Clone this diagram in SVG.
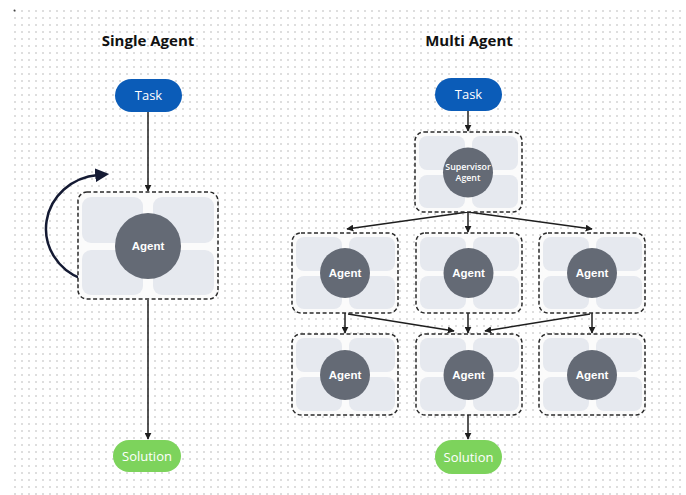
<svg xmlns="http://www.w3.org/2000/svg" width="686" height="495" viewBox="0 0 686 495">
<defs>
<pattern id="dots" x="14" y="10" width="7" height="7" patternUnits="userSpaceOnUse">
<circle cx="1" cy="1" r="0.8" fill="#b4b4b4"/>
</pattern>
<marker id="arr" viewBox="0 0 10 10" refX="9" refY="5" markerWidth="7" markerHeight="7" markerUnits="userSpaceOnUse" orient="auto">
<path d="M0,0 L10,5 L0,10 z" fill="#1e1e1e"/>
</marker>
<marker id="bigarr" viewBox="0 0 10 10" refX="2" refY="5" markerWidth="14" markerHeight="14" markerUnits="userSpaceOnUse" orient="auto">
<path d="M0,0 L10,5 L0,10 z" fill="#141a33"/>
</marker>
</defs>
<style>
.title{font-family:"Open Sans","Noto Sans",sans-serif;font-weight:700;font-size:15px;fill:#111}
.pilltxt{font-family:"Open Sans","Noto Sans",sans-serif;font-size:13px;fill:#fff;text-anchor:middle}
.agtxt{font-family:"Liberation Sans",Arial,sans-serif;font-weight:700;font-size:11.5px;fill:#fff;text-anchor:middle}
.suptxt{font-family:"Open Sans","Noto Sans",sans-serif;font-weight:600;font-size:8.8px;fill:#fff;text-anchor:middle}
.frame{fill:#fbfbfb;stroke:#2a2a2a;stroke-width:1.5;stroke-dasharray:4 2.5}
.quad{fill:#e6e9ef}
.circ{fill:#646a75}
.task{fill:#0b5cb8}
.sol{fill:#7dd35c}
.conn{fill:none;stroke:#1e1e1e;stroke-width:1.5}
</style>
<rect width="686" height="495" fill="#ffffff"/>
<rect x="14" y="10" width="672" height="485" fill="url(#dots)"/>
<circle cx="14.5" cy="10.5" r="1" fill="#444"/>

<text class="title" x="148" y="46" text-anchor="middle">Single Agent</text>
<text class="title" x="469" y="46" text-anchor="middle">Multi Agent</text>

<g id="connectors">
<line class="conn" x1="148" y1="112" x2="148" y2="191" marker-end="url(#arr)"/>
<line class="conn" x1="148" y1="300" x2="148" y2="439" marker-end="url(#arr)"/>
<path d="M 82 279 A 57 54 0 0 1 98 175" fill="none" stroke="#141a33" stroke-width="2.5" marker-end="url(#bigarr)"/>
<line class="conn" x1="468" y1="111" x2="468" y2="131" marker-end="url(#arr)"/>
<line class="conn" x1="468" y1="212" x2="347" y2="229" marker-end="url(#arr)"/>
<line class="conn" x1="468" y1="212" x2="468" y2="232" marker-end="url(#arr)"/>
<line class="conn" x1="468" y1="212" x2="592" y2="229" marker-end="url(#arr)"/>
<line class="conn" x1="345" y1="313" x2="345" y2="333" marker-end="url(#arr)"/>
<line class="conn" x1="348" y1="314" x2="454" y2="331" marker-end="url(#arr)"/>
<line class="conn" x1="468" y1="313" x2="468" y2="333" marker-end="url(#arr)"/>
<line class="conn" x1="592" y1="313" x2="592" y2="333" marker-end="url(#arr)"/>
<line class="conn" x1="590" y1="314" x2="485" y2="331" marker-end="url(#arr)"/>
<line class="conn" x1="468" y1="415" x2="468" y2="439" marker-end="url(#arr)"/>
</g>

<g id="single-task">
<rect class="task" x="115" y="79" width="67" height="33" rx="16.5"/>
<text class="pilltxt" x="148.5" y="100">Task</text>
</g>

<g id="single-agent">
<rect class="frame" x="78" y="192" width="140" height="107" rx="9"/>
<rect class="quad" x="82" y="197" width="61" height="46" rx="9"/>
<rect class="quad" x="153" y="197" width="61" height="46" rx="9"/>
<rect class="quad" x="82" y="250" width="61" height="45" rx="9"/>
<rect class="quad" x="153" y="250" width="61" height="45" rx="9"/>
<circle class="circ" cx="148" cy="246" r="33"/>
<text class="agtxt" x="148" y="250">Agent</text>
</g>

<g id="single-solution">
<rect class="sol" x="113" y="440" width="68" height="32" rx="16"/>
<text class="pilltxt" x="147" y="461">Solution</text>
</g>

<g id="multi-task">
<rect class="task" x="435" y="78" width="67" height="33" rx="16.5"/>
<text class="pilltxt" x="468.5" y="99">Task</text>
</g>

<g id="supervisor">
<rect class="frame" x="415" y="132" width="107" height="80" rx="9"/>
<rect class="quad" x="419" y="136" width="46" height="34" rx="8"/>
<rect class="quad" x="472" y="136" width="46" height="34" rx="8"/>
<rect class="quad" x="419" y="175" width="46" height="33" rx="8"/>
<rect class="quad" x="472" y="175" width="46" height="33" rx="8"/>
<circle class="circ" cx="468" cy="172.5" r="25"/>
<text class="suptxt" x="468" y="170">Supervisor</text>
<text class="suptxt" x="468" y="181">Agent</text>
</g>

<g id="agent-m1">
<rect class="frame" x="292" y="233" width="106" height="80" rx="9"/>
<rect class="quad" x="296" y="237" width="46" height="34" rx="8"/>
<rect class="quad" x="349" y="237" width="46" height="34" rx="8"/>
<rect class="quad" x="296" y="276" width="46" height="33" rx="8"/>
<rect class="quad" x="349" y="276" width="46" height="33" rx="8"/>
<circle class="circ" cx="345" cy="273" r="25"/>
<text class="agtxt" x="345" y="277">Agent</text>
</g>

<g id="agent-m2">
<rect class="frame" x="416" y="233" width="106" height="80" rx="9"/>
<rect class="quad" x="420" y="237" width="46" height="34" rx="8"/>
<rect class="quad" x="473" y="237" width="46" height="34" rx="8"/>
<rect class="quad" x="420" y="276" width="46" height="33" rx="8"/>
<rect class="quad" x="473" y="276" width="46" height="33" rx="8"/>
<circle class="circ" cx="468.5" cy="273" r="25"/>
<text class="agtxt" x="468.5" y="277">Agent</text>
</g>

<g id="agent-m3">
<rect class="frame" x="539" y="233" width="106" height="80" rx="9"/>
<rect class="quad" x="543" y="237" width="46" height="34" rx="8"/>
<rect class="quad" x="596" y="237" width="46" height="34" rx="8"/>
<rect class="quad" x="543" y="276" width="46" height="33" rx="8"/>
<rect class="quad" x="596" y="276" width="46" height="33" rx="8"/>
<circle class="circ" cx="592" cy="273" r="25"/>
<text class="agtxt" x="592" y="277">Agent</text>
</g>

<g id="agent-b1">
<rect class="frame" x="292" y="334" width="106" height="81" rx="9"/>
<rect class="quad" x="296" y="338" width="46" height="34" rx="8"/>
<rect class="quad" x="349" y="338" width="46" height="34" rx="8"/>
<rect class="quad" x="296" y="377" width="46" height="34" rx="8"/>
<rect class="quad" x="349" y="377" width="46" height="34" rx="8"/>
<circle class="circ" cx="345" cy="375" r="25"/>
<text class="agtxt" x="345" y="379">Agent</text>
</g>

<g id="agent-b2">
<rect class="frame" x="416" y="334" width="106" height="81" rx="9"/>
<rect class="quad" x="420" y="338" width="46" height="34" rx="8"/>
<rect class="quad" x="473" y="338" width="46" height="34" rx="8"/>
<rect class="quad" x="420" y="377" width="46" height="34" rx="8"/>
<rect class="quad" x="473" y="377" width="46" height="34" rx="8"/>
<circle class="circ" cx="468.5" cy="375" r="25"/>
<text class="agtxt" x="468.5" y="379">Agent</text>
</g>

<g id="agent-b3">
<rect class="frame" x="539" y="334" width="106" height="81" rx="9"/>
<rect class="quad" x="543" y="338" width="46" height="34" rx="8"/>
<rect class="quad" x="596" y="338" width="46" height="34" rx="8"/>
<rect class="quad" x="543" y="377" width="46" height="34" rx="8"/>
<rect class="quad" x="596" y="377" width="46" height="34" rx="8"/>
<circle class="circ" cx="592" cy="375" r="25"/>
<text class="agtxt" x="592" y="379">Agent</text>
</g>

<g id="multi-solution">
<rect class="sol" x="435" y="440" width="67" height="34" rx="17"/>
<text class="pilltxt" x="468.5" y="461.5">Solution</text>
</g>
</svg>
